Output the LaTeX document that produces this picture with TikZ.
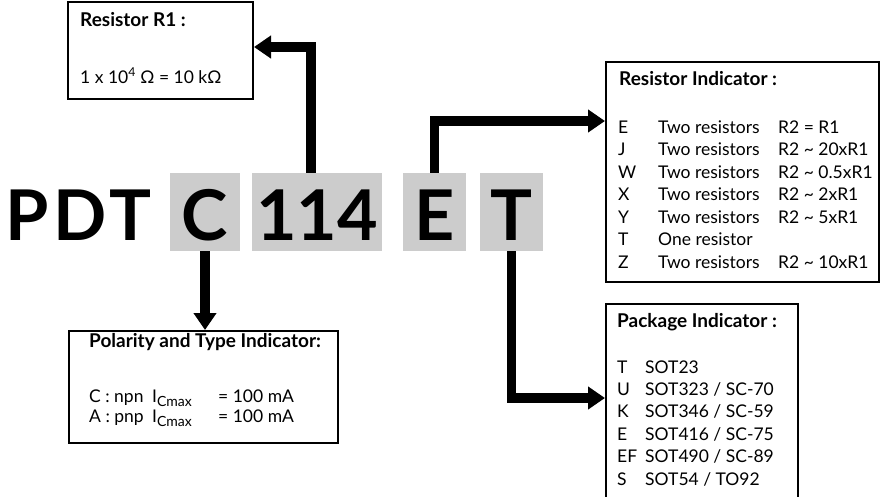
\documentclass[tikz,border=0pt]{standalone}
\usepackage{fontspec}
\setmainfont{Lato}
\usepackage{xcolor}
\usetikzlibrary{arrows.meta}
\definecolor{codegray}{HTML}{CCCCCC}
\tikzset{
  px/.style={x=1pt,y=-1pt},
  infobox/.style={draw,line width=2pt,anchor=north west,inner sep=0pt},
  codebox/.style={fill=codegray,inner sep=0pt,text height=56pt,text depth=0pt,font=\bigtxt},
  lead/.style={line width=9.5pt,-{Triangle[length=17pt,width=22pt]}},
  txt/.style={anchor=base west,inner sep=0pt,font=\bodytxt},
  hdr/.style={txt,font=\hdrtxt}
}
\newcommand{\bodytxt}{\fontsize{17.5}{20}\selectfont}
\newcommand{\hdrtxt}{\fontsize{19}{22}\selectfont\bfseries}
\newcommand{\bigtxt}{\fontsize{70}{72}\selectfont\bfseries}
\newcommand{\apx}{\textasciitilde}
\newcommand{\icmax}{I\raisebox{-4pt}{\fontsize{14}{14}\selectfont Cmax}}

\begin{document}
\begin{tikzpicture}[px]
\useasboundingbox (0,0) rectangle (883,496);
% part number
\node[txt,font=\bigtxt\addfontfeature{LetterSpace=7}] (pdt) at (5,240) {PDT};
\node[codebox,minimum width=70pt,minimum height=78pt] (cbox) at (205,212) {C};
\node[codebox,minimum width=130pt,minimum height=78pt] (mbox) at (317,212) {114};
\node[codebox,minimum width=63pt,minimum height=78pt] (ebox) at (434.5,212) {E};
\node[codebox,minimum width=63pt,minimum height=78pt] (tbox) at (511.5,212) {T};
% resistor R1
\node[infobox,minimum width=185pt,minimum height=97pt] (rbox) at (67,1) {};
\node[hdr] (rhdr) at (80,26) {Resistor R1 :};
\node[txt] (rval) at (80,83) {1 x 10\textsuperscript{4} Ω = 10 kΩ};
% polarity
\node[infobox,minimum width=269pt,minimum height=112pt] (polbox) at (68,330) {};
\node[hdr] (polhdr) at (89,347) {Polarity and Type Indicator:};
\node[txt] (pol1) at (89,402) {\makebox[63pt][l]{C : npn}\makebox[66pt][l]{\icmax}= 100 mA};
\node[txt] (pol2) at (89,422) {\makebox[63pt][l]{A : pnp}\makebox[66pt][l]{\icmax}= 100 mA};
% resistor indicator
\node[infobox,minimum width=273pt,minimum height=220pt] (resbox) at (605,61) {};
\node[hdr] (reshdr) at (619,85) {Resistor Indicator :};
\foreach \code/\desc/\val [count=\i from 0] in {E/Two resistors/R2 = R1,J/Two resistors/R2 \apx{} 20xR1,W/Two resistors/R2 \apx{} 0.5xR1,X/Two resistors/R2 \apx{} 2xR1,Y/Two resistors/R2 \apx{} 5xR1,T/One resistor/,Z/Two resistors/R2 \apx{} 10xR1}{
  \node[txt] (rc\i) at (618,133+22.5*\i) {\code};
  \node[txt] (rd\i) at (658,133+22.5*\i) {\desc};
  \node[txt] (rv\i) at (778,133+22.5*\i) {\val};
}
% package indicator
\node[infobox,minimum width=192pt,minimum height=205pt] (pkgbox) at (605,303) {};
\node[hdr] (pkghdr) at (617,327) {Package Indicator :};
\foreach \code/\pkg [count=\i from 0] in {T/SOT23,U/{SOT323 / SC-70},K/{SOT346 / SC-59},E/{SOT416 / SC-75},EF/{SOT490 / SC-89},S/{SOT54 / TO92}}{
  \node[txt] (pc\i) at (617,373+22.4*\i) {\code};
  \node[txt] (pp\i) at (645,373+22.4*\i) {\pkg};
}
% connectors
\coordinate (rin) at ([yshift=-46pt]rbox.north east);
\coordinate (resin) at ([yshift=-60pt]resbox.north west);
\coordinate (pkgin) at ([yshift=-95pt]pkgbox.north west);
\draw[lead] ([xshift=-6pt]mbox.north) |- (rin);
\draw[lead] (ebox.north) |- (resin);
\draw[lead] (tbox.south) |- (pkgin);
\draw[lead] (cbox.south) -- (cbox.south |- polbox.north);
\end{tikzpicture}
\end{document}
